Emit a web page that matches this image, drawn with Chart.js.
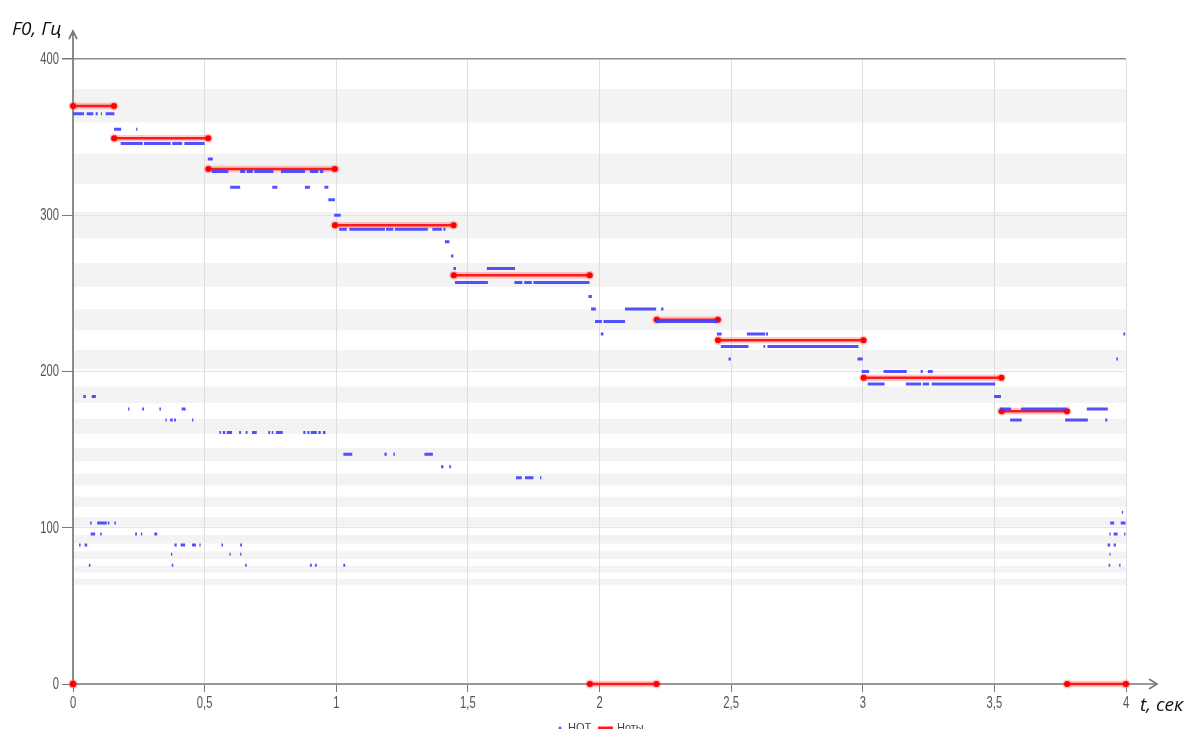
<!DOCTYPE html>
<html>
<head>
<meta charset="utf-8">
<script src="https://cdn.jsdelivr.net/npm/chart.js@4.4.1/dist/chart.umd.min.js"></script>
<style>
  html, body { margin: 0; padding: 0; background: #ffffff; }
  #wrap { width: 1188px; height: 729px; position: relative; overflow: hidden; }
  canvas { display: block; }
</style>
</head>
<body>
<div id="wrap"><canvas id="pitch" width="1188" height="729"></canvas></div>
<script>
// Axis ticks
const xTicks = [0, 0.5, 1, 1.5, 2, 2.5, 3, 3.5, 4];
const yTicks = [0, 100, 200, 300, 400];

// Sung notes (red): start time, end time, note frequency (Hz); 0 = pause
const noteStart = [0, 0, 0.156, 0.514, 0.995, 1.446, 1.963, 2.217, 2.45, 3.003, 3.527, 3.776];
const noteEnd   = [0, 0.156, 0.514, 0.995, 1.446, 1.963, 2.217, 2.45, 3.003, 3.527, 3.776, 4.0];
const noteHz    = [0, 369.99, 349.23, 329.63, 293.66, 261.63, 0, 233.08, 220.0, 196.0, 174.61, 0];

// Measured F0 track (blue): runs of equal frames — start time, end time, Hz
const f0Start = [
  0.001, 0.052, 0.086, 0.106, 0.124, 0.039, 0.071, 0.065, 0.092, 0.132, 0.157, 0.067, 0.103, 0.023, 0.044, 0.060,
  0.156, 0.240, 0.181, 0.270, 0.377, 0.423, 0.209, 0.263, 0.328, 0.413, 0.351, 0.369, 0.384, 0.452,
  0.236, 0.258, 0.309, 0.385, 0.409, 0.452, 0.480, 0.372, 0.375,
  0.512, 0.527, 0.635, 0.660, 0.689, 0.790, 0.900, 0.938, 0.597, 0.757, 0.881, 0.955, 0.970, 0.992,
  0.556, 0.569, 0.584, 0.631, 0.656, 0.680, 0.742, 0.755, 0.771, 0.875, 0.890, 0.903, 0.932, 0.949,
  0.564, 0.635, 0.594, 0.635, 0.654, 0.900, 0.919, 1.027,
  1.011, 1.050, 1.189, 1.223, 1.365, 1.407, 1.413, 1.436, 1.445,
  1.027, 1.183, 1.217, 1.335, 1.398, 1.429,
  1.451, 1.677, 1.714, 1.749, 1.572, 1.683, 1.717, 1.774, 1.958,
  1.968, 2.097, 2.234, 1.983, 2.015, 2.215, 2.005,
  2.446, 2.560, 2.632, 2.461, 2.623, 2.638, 2.490, 2.980,
  2.996, 3.079, 3.220, 3.247, 3.019, 3.164, 3.228, 3.262, 3.499,
  3.522, 3.601, 3.851, 3.560, 3.769, 3.921, 3.963, 3.990,
  3.984, 3.940, 3.980, 3.937, 3.953, 3.993, 3.930, 3.953, 3.937, 3.934, 3.974
];
const f0End = [
  0.042, 0.077, 0.094, 0.110, 0.157, 0.049, 0.087, 0.071, 0.128, 0.138, 0.163, 0.084, 0.109, 0.029, 0.054, 0.066,
  0.183, 0.245, 0.265, 0.371, 0.415, 0.500, 0.214, 0.270, 0.334, 0.428, 0.356, 0.379, 0.391, 0.457,
  0.243, 0.263, 0.320, 0.394, 0.426, 0.467, 0.485, 0.377, 0.381,
  0.531, 0.590, 0.654, 0.683, 0.761, 0.881, 0.932, 0.951, 0.635, 0.776, 0.900, 0.970, 0.995, 1.017,
  0.562, 0.578, 0.604, 0.638, 0.663, 0.698, 0.749, 0.761, 0.797, 0.883, 0.898, 0.926, 0.941, 0.959,
  0.570, 0.642, 0.599, 0.640, 0.660, 0.907, 0.926, 1.034,
  1.040, 1.185, 1.217, 1.348, 1.401, 1.415, 1.430, 1.445, 1.455,
  1.061, 1.192, 1.223, 1.367, 1.407, 1.436,
  1.576, 1.707, 1.743, 1.962, 1.679, 1.705, 1.749, 1.779, 1.971,
  1.986, 2.215, 2.243, 2.009, 2.097, 2.448, 2.015,
  2.464, 2.629, 2.640, 2.566, 2.629, 2.984, 2.499, 3.000,
  3.024, 3.167, 3.228, 3.266, 3.083, 3.222, 3.252, 3.503, 3.525,
  3.564, 3.773, 3.931, 3.604, 3.855, 3.929, 3.969, 3.997,
  3.989, 3.955, 3.998, 3.942, 3.968, 3.998, 3.940, 3.962, 3.941, 3.940, 3.979
];
const f0Hz = [
  365, 365, 365, 365, 365, 184, 184, 103, 103, 103, 103, 96, 96, 89, 89, 76,
  355, 355, 346, 346, 346, 346, 176, 176, 176, 176, 169, 169, 169, 169,
  96, 96, 96, 89, 89, 89, 89, 83, 76,
  336, 328, 328, 328, 328, 328, 328, 328, 318, 318, 318, 318, 310, 300,
  161, 161, 161, 161, 161, 161, 161, 161, 161, 161, 161, 161, 161, 161,
  89, 89, 83, 83, 76, 76, 76, 76,
  291, 291, 291, 291, 291, 291, 283, 274, 266,
  147, 147, 147, 147, 139, 139,
  257, 257, 257, 257, 266, 132, 132, 132, 248,
  240, 240, 240, 232, 232, 232, 224,
  224, 224, 224, 216, 216, 216, 208, 208,
  200, 200, 200, 200, 192, 192, 192, 192, 184,
  176, 176, 176, 169, 169, 169, 208, 224,
  110, 103, 103, 96, 96, 96, 89, 89, 83, 76, 76
];

// Semitones shaded as light bands (C2 … F#4, every other semitone)
const shadedNotesHz = [65.41, 73.42, 82.41, 92.50, 103.83, 116.54, 130.81, 146.83,
                       164.81, 185.00, 207.65, 233.08, 261.63, 293.66, 329.63, 369.99];

const legendLabels = ['НОТ', 'Ноты'];

function toSegments(starts, ends, vals) {
  const out = [];
  for (let i = 0; i < starts.length; i++) {
    out.push({ x: starts[i], y: vals[i] }, { x: ends[i], y: vals[i] }, { x: ends[i], y: null });
  }
  return out;
}

const fmt = v => String(v).replace('.', ',');

const BLUE = 'rgba(62, 62, 255, 0.9)';
const RED = '#ff1a1a';
const AXIS = '#7a7a7a';
const LABEL_FONT = "16px 'Liberation Sans', Arial, sans-serif";
const NARROW = 0.7;   // condensed tick lettering

const noteBands = {
  id: 'noteBands',
  beforeDraw(chart) {
    const { ctx, chartArea: a, scales: { y } } = chart;
    const half = Math.pow(2, 1 / 24);
    ctx.save();
    ctx.fillStyle = '#f3f3f3';
    shadedNotesHz.forEach(f => {
      const top = y.getPixelForValue(f * half);
      const bot = y.getPixelForValue(f / half);
      ctx.fillRect(a.left, top, a.right - a.left, bot - top);
    });
    ctx.restore();
  }
};

function narrowText(ctx, text, x, y, align) {
  ctx.save();
  ctx.translate(x, y);
  ctx.scale(NARROW, 1);
  ctx.textAlign = align;
  ctx.fillText(text, 0, 0);
  ctx.restore();
}

const arrowAxes = {
  id: 'arrowAxes',
  beforeDatasetsDraw(chart) {
    const { ctx, chartArea: a } = chart;
    ctx.save();
    ctx.strokeStyle = AXIS;
    ctx.lineWidth = 1.7;
    ctx.beginPath();
    // horizontal axis with arrow
    ctx.moveTo(a.left, a.bottom);
    ctx.lineTo(a.right + 31, a.bottom);
    ctx.moveTo(a.right + 23, a.bottom - 5);
    ctx.lineTo(a.right + 31, a.bottom);
    ctx.lineTo(a.right + 23, a.bottom + 5);
    // vertical axis with arrow
    ctx.moveTo(a.left, a.bottom);
    ctx.lineTo(a.left, a.top - 28);
    ctx.moveTo(a.left - 4, a.top - 20);
    ctx.lineTo(a.left, a.top - 28);
    ctx.lineTo(a.left + 4, a.top - 20);
    ctx.stroke();
    ctx.restore();
  },
  afterDraw(chart) {
    const { ctx, chartArea: a, scales: { x, y } } = chart;
    ctx.save();

    // tick labels
    ctx.fillStyle = '#555';
    ctx.font = LABEL_FONT;
    ctx.textBaseline = 'middle';
    yTicks.forEach(v => narrowText(ctx, fmt(v), a.left - 14, y.getPixelForValue(v) + 0.5, 'right'));
    ctx.textBaseline = 'top';
    xTicks.forEach(v => narrowText(ctx, fmt(v), x.getPixelForValue(v), a.bottom + 12, 'center'));

    // axis titles
    ctx.fillStyle = '#111';
    ctx.font = "italic 19px 'Open Sans', 'Noto Sans', sans-serif";
    ctx.textBaseline = 'alphabetic';
    ctx.textAlign = 'left';
    ctx.fillText('F0, Гц', 12, 35);
    ctx.fillText('t, сек', 1140, 711);

    // legend (bottom, partly outside the canvas)
    ctx.font = "11px 'Liberation Sans', Arial, sans-serif";
    ctx.textBaseline = 'top';
    ctx.fillStyle = BLUE;
    ctx.beginPath();
    ctx.arc(560, 728, 1.5, 0, Math.PI * 2);
    ctx.fill();
    ctx.fillStyle = '#444';
    ctx.fillText(legendLabels[0], 568, 722);
    ctx.strokeStyle = RED;
    ctx.lineWidth = 3;
    ctx.beginPath();
    ctx.moveTo(598, 728);
    ctx.lineTo(613, 728);
    ctx.stroke();
    ctx.fillStyle = '#444';
    ctx.fillText(legendLabels[1], 617, 722);
    ctx.restore();
  }
};

const noteData = toSegments(noteStart, noteEnd, noteHz);

new Chart(document.getElementById('pitch'), {
  type: 'line',
  data: {
    datasets: [
      {
        label: legendLabels[0],
        data: toSegments(f0Start, f0End, f0Hz),
        borderColor: BLUE,
        borderWidth: 3,
        borderCapStyle: 'butt',
        pointRadius: 0,
        spanGaps: false,
        order: 0
      },
      {
        label: legendLabels[1],
        data: noteData,
        borderColor: RED,
        borderWidth: 2.5,
        pointRadius: 3,
        pointBackgroundColor: '#ff0000',
        pointBorderWidth: 0,
        spanGaps: false,
        clip: 8,
        order: 1
      },
      {
        label: 'halo',
        data: noteData,
        borderColor: 'rgba(255, 60, 60, 0.28)',
        borderWidth: 6.5,
        pointRadius: 4.5,
        pointBackgroundColor: 'rgba(255, 60, 60, 0.28)',
        pointBorderWidth: 0,
        spanGaps: false,
        clip: 8,
        order: 2
      }
    ]
  },
  options: {
    responsive: false,
    animation: false,
    devicePixelRatio: 1,
    layout: { padding: { top: 59, right: 62, left: 0, bottom: 0 } },
    plugins: { legend: { display: false }, tooltip: { enabled: false } },
    scales: {
      x: {
        type: 'linear',
        min: 0,
        max: 4,
        afterBuildTicks: s => { s.ticks = xTicks.map(v => ({ value: v })); },
        afterFit: s => { s.height = 45; },
        border: { display: false },
        grid: { color: '#dedede', lineWidth: 1, tickColor: AXIS, tickLength: 8 },
        ticks: { autoSkip: false, maxRotation: 0, padding: 5, color: 'rgba(0,0,0,0)', callback: fmt }
      },
      y: {
        type: 'linear',
        min: 0,
        max: 400,
        afterBuildTicks: s => { s.ticks = yTicks.map(v => ({ value: v })); },
        afterFit: s => { s.width = 73; },
        border: { display: false },
        grid: {
          color: c => (c.tick && c.tick.value === 400) ? '#8c8c8c' : '#e3e3e3',
          lineWidth: c => (c.tick && c.tick.value === 400) ? 1.5 : 1,
          tickColor: AXIS,
          tickLength: 11
        },
        ticks: { padding: 3, color: 'rgba(0,0,0,0)' }
      }
    }
  },
  plugins: [noteBands, arrowAxes]
});
</script>
</body>
</html>
